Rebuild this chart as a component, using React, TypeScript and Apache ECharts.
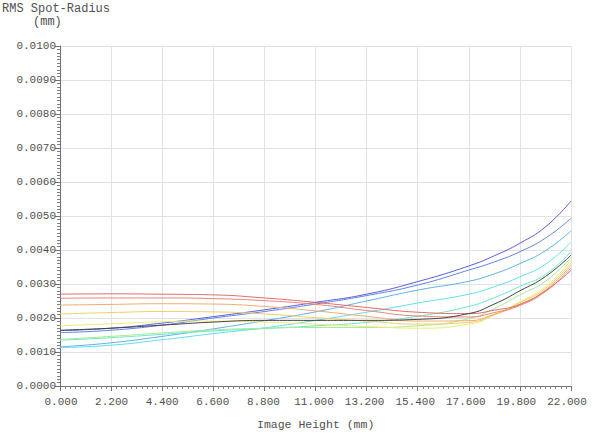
import React, { useEffect, useRef } from "react";
import * as echarts from "echarts";

const xValues = [0, 2.2, 4.4, 6.6, 8.8, 11, 13.2, 15.4, 17.6, 18.7, 19.8, 20.9, 22];

const purple = [0.00163, 0.0017, 0.00185, 0.00204, 0.00224, 0.00246, 0.0027, 0.00307, 0.00353, 0.00383, 0.0042, 0.00468, 0.00544];
const blue = [0.00157, 0.00164, 0.00179, 0.002, 0.00219, 0.00241, 0.00266, 0.00297, 0.00341, 0.00365, 0.00395, 0.00435, 0.00493];
const lightBlue = [0.00115, 0.00127, 0.00146, 0.00168, 0.00192, 0.00218, 0.0025, 0.00282, 0.00308, 0.0033, 0.0036, 0.00398, 0.00456];
const cyan = [0.00113, 0.0012, 0.00136, 0.00154, 0.00171, 0.00193, 0.00217, 0.00244, 0.0027, 0.00292, 0.00321, 0.00358, 0.00423];
const aqua = [0.00135, 0.00142, 0.00152, 0.00162, 0.00169, 0.00177, 0.00187, 0.00205, 0.00234, 0.0026, 0.00293, 0.00328, 0.00395];
const green = [0.00137, 0.00146, 0.00156, 0.00165, 0.0017, 0.00172, 0.00172, 0.00177, 0.00198, 0.00228, 0.00268, 0.00308, 0.00378];
const yellow = [0.00177, 0.00183, 0.00189, 0.00191, 0.00188, 0.00182, 0.00175, 0.0017, 0.00182, 0.00208, 0.00248, 0.00292, 0.0037];
const gold = [0.00212, 0.00216, 0.00219, 0.00218, 0.00212, 0.00201, 0.00191, 0.00182, 0.00187, 0.0021, 0.00245, 0.00287, 0.00362];
const orange = [0.00238, 0.0024, 0.00242, 0.00241, 0.00234, 0.00221, 0.00205, 0.00191, 0.00192, 0.00211, 0.0024, 0.00282, 0.00355];
const redOrange = [0.00258, 0.00259, 0.00259, 0.00257, 0.00251, 0.0024, 0.00222, 0.00206, 0.00203, 0.00216, 0.00237, 0.00278, 0.00347];
const red = [0.0027, 0.00271, 0.0027, 0.00268, 0.00259, 0.00246, 0.00231, 0.00217, 0.00213, 0.00223, 0.0024, 0.0028, 0.0034];
const poly = [0.00164, 0.0017, 0.00179, 0.00188, 0.00193, 0.00193, 0.00193, 0.00196, 0.00213, 0.00241, 0.0028, 0.00322, 0.00385];

const seriesNames = ["purple", "blue", "lightBlue", "cyan", "aqua", "green", "yellow", "gold", "orange", "redOrange", "red", "poly"];
const seriesData = [purple, blue, lightBlue, cyan, aqua, green, yellow, gold, orange, redOrange, red, poly];
const seriesColors = ["#5a5ad8", "#5c84e0", "#5cb0ec", "#62dcf0", "#6ce6c8", "#a4ea94", "#eeea74", "#f4cc64", "#f0aa6c", "#e88474", "#e06a6a", "#404040"];

const xTickLabels = ["0.000", "2.200", "4.400", "6.600", "8.800", "11.000", "13.200", "15.400", "17.600", "19.800", "22.000"];

const yTitle = "RMS Spot-Radius";
const yUnit = "(mm)";
const xTitle = "Image Height (mm)";

const FONT = "'Liberation Mono', 'DejaVu Sans Mono', monospace";

export default function App() {
  const ref = useRef<HTMLDivElement>(null);
  useEffect(() => {
    if (!ref.current) return;
    const chart = echarts.init(ref.current, undefined, { renderer: "svg" });
    const rich: Record<string, any> = {};
    xTickLabels.forEach((_, i) => {
      const shift = 2 - 1.0 * i;
      rich["s" + i] = {
        color: "#505050",
        fontFamily: FONT,
        fontSize: 11,
        padding: [0, Math.max(0, -shift), 0, Math.max(0, shift)],
      };
    });
    chart.setOption({
      animation: false,
      backgroundColor: "#ffffff",
      grid: { left: 60, right: 29, top: 46, bottom: 50, containLabel: false },
      xAxis: {
        type: "value",
        min: 0,
        max: 22,
        interval: 2.2,
        axisLine: { show: true, lineStyle: { color: "#707070", width: 1 } },
        axisTick: { show: true, length: 5, lineStyle: { color: "#707070" } },
        minorTick: { show: true, splitNumber: 10, length: 3, lineStyle: { color: "#808080" } },
        splitLine: { show: true, lineStyle: { color: "#e2e2e2", width: 1 } },
        axisLabel: {
          color: "#505050",
          fontFamily: FONT,
          fontSize: 11,
          margin: 10,
          formatter: (v: number) => {
            const i = Math.round(v / 2.2);
            return `{s${i}|${xTickLabels[i] ?? v.toFixed(3)}}`;
          },
          rich,
        },
      },
      yAxis: {
        type: "value",
        min: 0,
        max: 0.01,
        interval: 0.001,
        axisLine: { show: true, lineStyle: { color: "#707070", width: 1 } },
        axisTick: { show: true, length: 5, lineStyle: { color: "#707070" } },
        minorTick: { show: true, splitNumber: 10, length: 3, lineStyle: { color: "#808080" } },
        splitLine: { show: true, lineStyle: { color: "#e2e2e2", width: 1 } },
        axisLabel: {
          color: "#505050",
          fontFamily: FONT,
          fontSize: 11,
          margin: 4,
          formatter: (v: number) => v.toFixed(4),
        },
      },
      graphic: [
        { type: "text", left: 2, top: 3, style: { text: yTitle, fill: "#505050", font: `12px ${FONT}` } },
        { type: "text", left: 33, top: 16, style: { text: yUnit, fill: "#505050", font: `12px ${FONT}` } },
        { type: "text", left: 257, top: 418, style: { text: xTitle, fill: "#505050", font: `11.5px ${FONT}` } },
      ],
      series: seriesData.map((d, i) => ({
        name: seriesNames[i],
        type: "line",
        data: xValues.map((x, j) => [x, d[j]]),
        smooth: 0.5,
        showSymbol: false,
        symbol: "none",
        lineStyle: { color: seriesColors[i], width: 1 },
        itemStyle: { color: seriesColors[i] },
        z: i === seriesData.length - 1 ? 3 : 2,
      })),
    });
    return () => chart.dispose();
  }, []);
  return <div ref={ref} style={{ width: 600, height: 436, position: "absolute", left: 0, top: 0 }} />;
}
